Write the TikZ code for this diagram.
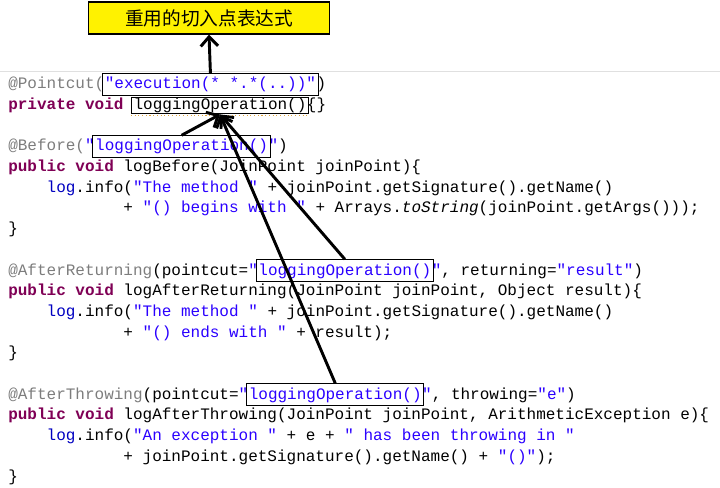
\documentclass[tikz,border=0pt]{standalone}
\usepackage{fontspec}
\setmonofont{Liberation Mono}
\newfontfamily\cjk{Noto Sans CJK SC}
\usepackage{xcolor}
\usetikzlibrary{arrows.meta, positioning, fit}

\definecolor{anngray}{RGB}{125,125,125}
\definecolor{kwpurple}{RGB}{127,0,85}
\definecolor{strblue}{RGB}{42,0,255}
\definecolor{fldblue}{RGB}{0,0,192}
\definecolor{warnorange}{RGB}{225,165,60}

\newcommand{\codefont}{\fontsize{12}{14}\selectfont\ttfamily}
\newcommand{\titlefont}{\fontsize{14}{16}\selectfont\cjk}
\newcommand{\jann}[1]{\textcolor{anngray}{#1}}
\newcommand{\jkw}[1]{\textcolor{kwpurple}{\bfseries #1}}
\newcommand{\jstr}[1]{\textcolor{strblue}{#1}}
\newcommand{\jfld}[1]{\textcolor{fldblue}{#1}}

\begin{document}
\begin{tikzpicture}[x=0.75pt,y=-0.75pt,
        code/.style={inner sep=0pt, font=\codefont},
        hlbox/.style={draw, line width=0.8pt, inner xsep=1.5pt, inner ysep=2.5pt},
        titlebox/.style={draw, line width=1pt, fill=yellow, minimum width=181pt,
            minimum height=24pt, font=\titlefont},
        pointer/.style={line width=2.2pt, -{Straight Barb[length=7pt,width=13pt]}}]
    \useasboundingbox (0,0) rectangle (720,488);
    \draw[black!12] (0,71) -- (720,71);

    \node[titlebox] (title) at (209,18) {重用的切入点表达式};

    % the pointcut
    \node[code, anchor=base west] (pc) at (8,89) {\jann{@Pointcut(}};
    \node[code, base right=0pt of pc] (pcexpr) {\jstr{"execution(* *.*(..))"}};
    \node[code, base right=0pt of pcexpr] (pcend) {)};
    \node[hlbox, fit=(pcexpr)] (pcbox) {};

    \node[code, anchor=base west] (op) at (8,109.67) {\jkw{private void}\mbox{\ }};
    \node[code, base right=0pt of op] (opname) {loggingOperation()};
    \node[code, base right=0pt of opname] (opend) {\{\}};
    \node[hlbox, fit=(opname), inner ysep=0.5pt] (opbox) {};
    \draw[warnorange, dotted, line width=0.8pt] ([yshift=-1pt]opbox.south west) -- ([yshift=-1pt]opbox.south east);

    % before
    \node[code, anchor=base west] (bf) at (8,151) {\jann{@Before(}\jstr{"}};
    \node[code, base right=0pt of bf] (bfname) {\jstr{loggingOperation()}};
    \node[code, base right=0pt of bfname] (bfend) {\jstr{"})};
    \node[hlbox, fit=(bfname)] (bfbox) {};
    \node[code, anchor=base west] (bf2) at (8,171.7) {\jkw{public void} logBefore(JoinPoint joinPoint)\{};
    \node[code, anchor=base west] (bf3) at (46.4,192.3) {\jfld{log}.info(\jstr{"The method "} + joinPoint.getSignature().getName()};
    \node[code, anchor=base west] (bf4) at (123.2,213) {+ \jstr{"() begins with "} + Arrays.\textit{toString}(joinPoint.getArgs()));};
    \node[code, anchor=base west] (bf5) at (8,233.7) {\}};

    % after returning
    \node[code, anchor=base west] (ar) at (8,275) {\jann{@AfterReturning}(pointcut=\jstr{"}};
    \node[code, base right=0pt of ar] (arname) {\jstr{loggingOperation()}};
    \node[code, base right=0pt of arname] (arend) {\jstr{"}, returning=\jstr{"result"})};
    \node[hlbox, fit=(arname)] (arbox) {};
    \node[code, anchor=base west] (ar2) at (8,295.7) {\jkw{public void} logAfterReturning(JoinPoint joinPoint, Object result)\{};
    \node[code, anchor=base west] (ar3) at (46.4,316.3) {\jfld{log}.info(\jstr{"The method "} + joinPoint.getSignature().getName()};
    \node[code, anchor=base west] (ar4) at (123.2,337) {+ \jstr{"() ends with "} + result);};
    \node[code, anchor=base west] (ar5) at (8,357.7) {\}};

    % after throwing
    \node[code, anchor=base west] (th) at (8,399) {\jann{@AfterThrowing}(pointcut=\jstr{"}};
    \node[code, base right=0pt of th] (thname) {\jstr{loggingOperation()}};
    \node[code, base right=0pt of thname] (thend) {\jstr{"}, throwing=\jstr{"e"})};
    \node[hlbox, fit=(thname)] (thbox) {};
    \node[code, anchor=base west] (th2) at (8,419.7) {\jkw{public void} logAfterThrowing(JoinPoint joinPoint, ArithmeticException e)\{};
    \node[code, anchor=base west] (th3) at (46.4,440.3) {\jfld{log}.info(\jstr{"An exception "} + e + \jstr{" has been throwing in "}};
    \node[code, anchor=base west] (th4) at (123.2,461) {+ joinPoint.getSignature().getName() + \jstr{"()"});};
    \node[code, anchor=base west] (th5) at (8,481.7) {\}};

    \draw[pointer] (pcbox.north) -- (title.south);
    \draw[pointer] (bfbox.north) -- (opbox.south);
    \draw[pointer] (arbox.north) -- (opbox.south);
    \draw[pointer] (thbox.north) -- (opbox.south);
\end{tikzpicture}
\end{document}
